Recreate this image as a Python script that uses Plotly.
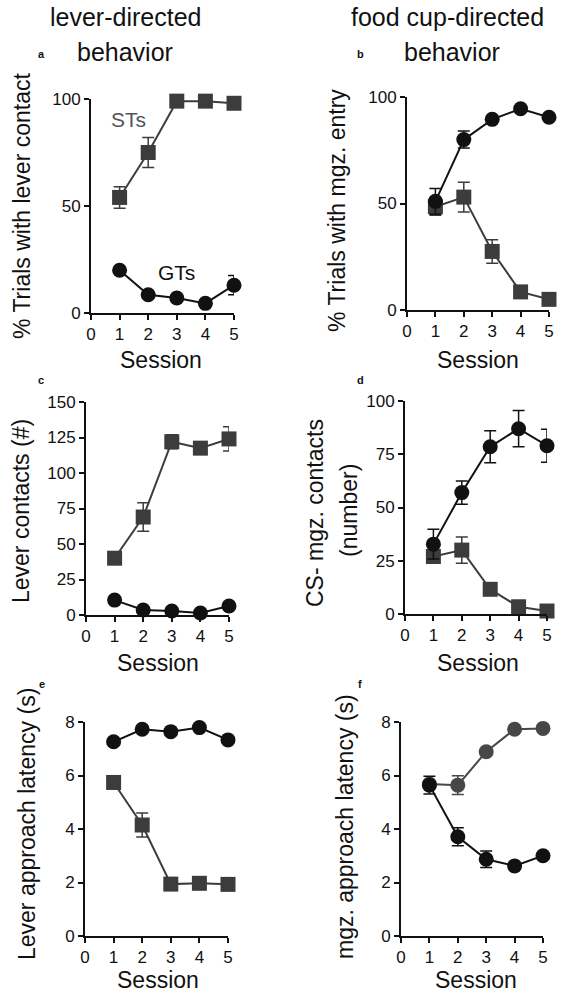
import plotly.graph_objects as go

W, H = 568, 996
sessions = [1, 2, 3, 4, 5]

# Panel a: % trials with lever contact
a_st = [54, 75, 99, 99, 98]
a_st_err = [5, 7, 0, 0, 0]
a_gt = [20, 8.5, 7, 4.5, 13]
a_gt_err = [0, 0, 0, 0, 4.5]

# Panel b: % trials with magazine entry
b_gt = [51, 80, 89.5, 94.5, 90.5]
b_gt_err = [6, 4, 0, 0, 0]
b_st = [48.5, 53, 27.5, 8.5, 5]
b_st_err = [4, 7, 5.5, 0, 0]

# Panel c: lever contacts (#)
c_st = [40, 69, 122, 117.5, 124]
c_st_err = [0, 10, 5, 0, 8.5]
c_gt = [10.5, 3.5, 2.8, 1.4, 6.3]
c_gt_err = [0, 0, 0, 0, 0]

# Panel d: CS- mgz. contacts (number)
d_gt = [32.8, 57, 78.5, 87, 79]
d_gt_err = [7, 5.5, 7.5, 8.5, 7.7]
d_st = [27, 30, 11.6, 3.4, 1.4]
d_st_err = [0, 6.2, 0, 0, 0]

# Panel e: lever approach latency (s)
e_gt = [7.26, 7.73, 7.64, 7.79, 7.33]
e_gt_err = [0, 0, 0, 0, 0]
e_st = [5.74, 4.15, 1.94, 1.97, 1.93]
e_st_err = [0, 0.45, 0, 0, 0]

# Panel f: mgz. approach latency (s)
f_gt = [5.64, 3.71, 2.87, 2.62, 3.0]
f_gt_err = [0.33, 0.34, 0.31, 0, 0]
f_st = [5.68, 5.64, 6.89, 7.73, 7.76]
f_st_err = [0, 0.35, 0, 0, 0]

ST_COL = "#3c3c3c"
GT_COL = "#111111"
FONT = "Liberation Sans, Arial, sans-serif"

fig = go.Figure()

def px_x(p):
    return p / W

def px_y(p):
    return 1 - p / H

panels = [
    ("a", (91, 234), (99, 313), [0, 100], [0, 50, 100],
     [(a_st, a_st_err, "square", ST_COL), (a_gt, a_gt_err, "circle", GT_COL)]),
    ("b", (407, 549), (97, 310), [0, 100], [0, 50, 100],
     [(b_st, b_st_err, "square", ST_COL), (b_gt, b_gt_err, "circle", GT_COL)]),
    ("c", (86, 229), (402, 615), [0, 150], [0, 25, 50, 75, 100, 125, 150],
     [(c_st, c_st_err, "square", ST_COL), (c_gt, c_gt_err, "circle", GT_COL)]),
    ("d", (405, 547), (401, 614), [0, 100], [0, 25, 50, 75, 100],
     [(d_st, d_st_err, "square", ST_COL), (d_gt, d_gt_err, "circle", GT_COL)]),
    ("e", (85, 228), (722, 936), [0, 8], [0, 2, 4, 6, 8],
     [(e_st, e_st_err, "square", ST_COL), (e_gt, e_gt_err, "circle", GT_COL)]),
    ("f", (401, 543), (722, 936), [0, 8], [0, 2, 4, 6, 8],
     [(f_st, f_st_err, "circle", "#474747"), (f_gt, f_gt_err, "circle", GT_COL)]),
]

layout_axes = {}
for i, (name, xd, yd, yr, yt, series) in enumerate(panels):
    n = "" if i == 0 else str(i + 1)
    xa, ya = "x" + n, "y" + n
    for vals, errs, sym, col in series:
        fig.add_trace(go.Scatter(
            x=sessions, y=vals, xaxis=xa, yaxis=ya, mode="lines+markers",
            line=dict(color=col, width=2),
            marker=dict(symbol=sym, size=15, color=col, line=dict(width=0)),
            error_y=dict(type="data", array=errs, visible=True, color=col,
                         thickness=1.5, width=6),
            showlegend=False, cliponaxis=False, hoverinfo="skip"))
    common = dict(showline=True, linecolor="#111111", linewidth=2, showgrid=False,
                  zeroline=False, ticks="outside", ticklen=5, tickwidth=2,
                  tickcolor="#111111", automargin=False,
                  tickfont=dict(size=17, color="#111111", family=FONT))
    layout_axes["xaxis" + n] = dict(
        domain=[px_x(xd[0]), px_x(xd[1])], range=[0, 5], anchor=ya,
        tickvals=[0, 1, 2, 3, 4, 5], **common)
    layout_axes["yaxis" + n] = dict(
        domain=[px_y(yd[1]), px_y(yd[0])], range=yr, anchor=xa,
        tickvals=yt, **common)

fig.update_layout(**layout_axes)

ann = []

def text(x, y, s, size, rot=0, color="#111111", bold=False):
    ann.append(dict(x=px_x(x), y=px_y(y), xref="paper", yref="paper",
                    text=("<b>%s</b>" % s) if bold else s, showarrow=False,
                    xanchor="center", yanchor="middle", textangle=rot,
                    font=dict(size=size, color=color, family=FONT)))

# column headers
text(125, 17, "lever-directed", 25)
text(125, 52, "behavior", 25)
text(448, 17, "food cup-directed", 25)
text(452, 52, "behavior", 25)

# panel letters
for lx, ly, lt in [(41, 54, "a"), (360, 54, "b"), (41, 380, "c"),
                   (360, 380, "d"), (42, 684, "e"), (360, 684, "f")]:
    text(lx, ly, lt, 11, bold=True)

# y-axis titles
text(22, 206, "% Trials with lever contact", 23, rot=-90)
text(337, 211, "% Trials with mgz. entry", 23, rot=-90)
text(21, 511, "Lever contacts (#)", 23, rot=-90)
text(315, 513, "CS- mgz. contacts", 23, rot=-90)
text(349, 511, "(number)", 23, rot=-90)
text(27, 824, "Lever approach latency (s)", 23, rot=-90)
text(345, 827, "mgz. approach latency (s)", 23, rot=-90)

# x-axis titles
for sx, sy in [(161, 360), (478, 360), (158, 663), (478, 663), (158, 980), (476, 980)]:
    text(sx, sy, "Session", 23)

# group labels
text(128, 120, "STs", 21, color="#555555")
text(176, 272, "GTs", 21, color="#111111")

fig.update_layout(annotations=ann, width=W, height=H,
                  margin=dict(l=0, r=0, t=0, b=0, pad=0, autoexpand=False),
                  paper_bgcolor="white", plot_bgcolor="white",
                  font=dict(family=FONT, color="#111111"))

fig.write_html("out.html",
               config={"displayModeBar": False, "staticPlot": True},
               post_script="document.body.style.margin='0';document.body.style.overflow='hidden';")
